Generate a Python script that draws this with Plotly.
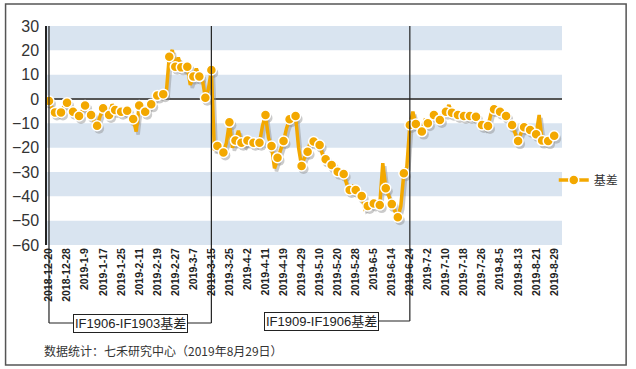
import plotly.graph_objects as go

# ---------------- data ----------------
basis = [
    -0.8, -4, -5.5, -6, -5.5, -3, -1.5, -4, -5.2, -6.5,
    -7, -5, -2.7, -5, -6.6, -9, -11, -7, -3.8, -5,
    -6.6, -2.2, -4.5, -5, -5.2, -5.5, -4.8, -6, -8.2, -13.4,
    -2.7, -4, -5.2, -3.5, -2.2, 0, 1.4, 1.5, 2, 2.5,
    17.4, 20.1, 13.3, 17, 13, 12, 13.3, 5.8, 9.2, 12.5,
    9.2, 8, 0.5, 4, 11.9, -21, -19.3, -20, -22, -18,
    -9.6, -20, -17.1, -13, -18, -19, -17.1, -17.5, -18, -17,
    -18, -11, -6.6, -16, -19.3, -28.5, -24.1, -21, -17.3, -12,
    -8.3, -8, -7, -20, -27.5, -24, -21.7, -17, -17.5, -19,
    -18.9, -23, -24.8, -26, -27.1, -29, -29.9, -30.5, -30.8, -35,
    -37.4, -36, -37.4, -38, -39.9, -45, -44, -43, -42.9, -43,
    -43.6, -26.4, -36.7, -40, -43.2, -46, -48.6, -44, -30.5, -28,
    -10.7, -5.2, -10.3, -12, -13.4, -9, -10, -8, -6.6, -7.5,
    -8.6, -6, -5.2, -2.5, -5.6, -6, -6.6, -7, -7, -7.5,
    -7, -8, -7.3, -9, -10.7, -12, -11.1, -6, -4.2, -5,
    -5.2, -6, -7, -9, -10.7, -14, -17.3, -14, -11.6, -12,
    -12.7, -13.5, -14.5, -6.6, -17.1, -17.5, -17.3, -16, -15.1,
]

tick_labels = [
    "2018-12-20", "2018-12-28", "2019-1-9", "2019-1-17", "2019-1-25",
    "2019-2-11", "2019-2-19", "2019-2-27", "2019-3-7", "2019-3-15",
    "2019-3-25", "2019-4-2", "2019-4-11", "2019-4-19", "2019-4-29",
    "2019-5-10", "2019-5-20", "2019-5-28", "2019-6-5", "2019-6-14",
    "2019-6-24", "2019-7-2", "2019-7-10", "2019-7-18", "2019-7-26",
    "2019-8-5", "2019-8-13", "2019-8-21", "2019-8-29",
]
STEP = 6  # trading days between labelled ticks

y_ticks = [30, 20, 10, 0, -10, -20, -30, -40, -50, -60]

bracket1 = ("IF1906-IF1903基差", "2018-12-20", "2019-3-15")
bracket2 = ("IF1909-IF1906基差", "2019-3-15", "2019-6-24")

series_name = "基差"
note = "数据统计：七禾研究中心（2019年8月29日）"

# ---------------- figure ----------------
ORANGE = "#F3A800"
BAND = "#D9E4F0"
x = list(range(len(basis)))
tick_pos = [i * STEP for i in range(len(tick_labels))]
pos = {lab: i * STEP for i, lab in enumerate(tick_labels)}

XR = [-0.66, 170.6]
YR = [-60, 30]
PXX = 522 / (XR[1] - XR[0])
PXY = 219 / (YR[1] - YR[0])
dx = 2 / PXX
dy = 3 / PXY

fig = go.Figure()

# shadow (base axes, shifted ranges)
fig.add_trace(go.Scatter(x=x, y=basis, mode="lines", xaxis="x", yaxis="y",
                         line=dict(color="rgba(140,140,140,0.45)", width=3.5),
                         showlegend=False, hoverinfo="skip"))
fig.add_trace(go.Scatter(x=x[::2], y=basis[::2], mode="markers", xaxis="x", yaxis="y",
                         marker=dict(color="rgba(140,140,140,0.45)", size=10),
                         showlegend=False, hoverinfo="skip"))
# main series (overlay axes)
fig.add_trace(go.Scatter(x=x, y=basis, mode="lines", xaxis="x2", yaxis="y2",
                         line=dict(color=ORANGE, width=3.5), showlegend=False))
fig.add_trace(go.Scatter(x=x[::2], y=basis[::2], mode="markers", xaxis="x2", yaxis="y2",
                         marker=dict(color=ORANGE, size=10, line=dict(color="white", width=1.5)),
                         showlegend=False))
# legend entry
fig.add_trace(go.Scatter(x=[None], y=[None], mode="lines+markers", xaxis="x2", yaxis="y2",
                         name=series_name,
                         line=dict(color=ORANGE, width=3.5),
                         marker=dict(color=ORANGE, size=10, line=dict(color="white", width=1.5))))

shapes = []
# bands
for k in range(len(y_ticks) - 1):
    top, bot = y_ticks[k], y_ticks[k + 1]
    if k % 2 == 0:
        shapes.append(dict(type="rect", xref="paper", yref="y2", x0=0, x1=1, y0=bot, y1=top,
                           fillcolor=BAND, line=dict(width=0), layer="below"))
# zero line
shapes.append(dict(type="line", xref="paper", yref="y2", x0=0, x1=1, y0=0, y1=0,
                   line=dict(color="#555555", width=2), layer="below"))

BR_Y = -(323 - 245) / 219
# bracket 1
l1, a1, b1 = bracket1
for d in (a1, b1):
    shapes.append(dict(type="line", xref="x2", yref="paper", x0=pos[d], x1=pos[d], y0=BR_Y, y1=1,
                       line=dict(color="#222222", width=1.2)))
shapes.append(dict(type="line", xref="x2", yref="paper", x0=pos[a1], x1=pos[b1], y0=BR_Y, y1=BR_Y,
                   line=dict(color="#222222", width=1.2)))
# bracket 2
l2, a2, b2 = bracket2
BR2_Y = -(321 - 245) / 219
shapes.append(dict(type="line", xref="x2", yref="paper", x0=pos[b2], x1=pos[b2], y0=BR2_Y, y1=1,
                   line=dict(color="#222222", width=1.2)))
mid2 = (pos[a2] + pos[b2]) / 2 + 3.5
shapes.append(dict(type="line", xref="x2", yref="paper", x0=mid2, x1=pos[b2], y0=BR2_Y, y1=BR2_Y,
                   line=dict(color="#222222", width=1.2)))
# outer frame
shapes.append(dict(type="rect", xref="paper", yref="paper",
                   x0=(3 - 45) / 522, x1=(632 - 45) / 522,
                   y0=(245 - 365) / 219, y1=(245 - 4) / 219,
                   line=dict(color="#555555", width=1.5), fillcolor="rgba(0,0,0,0)"))

box_font = dict(family="Liberation Sans, Noto Sans CJK SC", size=13, color="#222222")
annotations = [
    dict(x=(pos[a1] + pos[b1]) / 2, y=BR_Y, xref="x2", yref="paper", text=l1, showarrow=False,
         xanchor="center", yanchor="middle",
         bgcolor="white", bordercolor="#222222", borderwidth=1, borderpad=1, font=box_font),
    dict(x=mid2, y=BR2_Y, xref="x2", yref="paper", text=l2, showarrow=False,
         xanchor="center", yanchor="middle",
         bgcolor="white", bordercolor="#222222", borderwidth=1, borderpad=1, font=box_font),
    dict(x=(40 - 45) / 522, y=(245 - 351) / 219, xref="paper", yref="paper", text=note,
         showarrow=False, xanchor="left", yanchor="middle",
         font=dict(family="Noto Sans CJK SC", size=12, color="#333333")),
]

fig.update_layout(
    width=636, height=369,
    margin=dict(l=45, r=69, t=26, b=124),
    paper_bgcolor="white", plot_bgcolor="white",
    shapes=shapes, annotations=annotations,
    xaxis=dict(range=[XR[0] - dx, XR[1] - dx], visible=False, fixedrange=True),
    yaxis=dict(range=[YR[0] + dy, YR[1] + dy], visible=False, fixedrange=True),
    xaxis2=dict(range=XR, overlaying="x", side="bottom", tickmode="array",
                tickvals=tick_pos, ticktext=[f"<b>{t}</b>" for t in tick_labels],
                tickangle=-90, tickfont=dict(family="Liberation Sans", size=10.5, color="#222222"),
                showgrid=False, zeroline=False, showline=False, ticks=""),
    yaxis2=dict(range=YR, overlaying="y", side="left", tickmode="array", tickvals=y_ticks,
                tickfont=dict(family="Liberation Sans", size=16, color="#333333"),
                showgrid=False, zeroline=False, showline=True, linecolor="#222222", linewidth=1.5,
                ticks="", ticklabelstandoff=3),
    legend=dict(x=0.984, xanchor="left", y=0.297, yanchor="middle",
                font=dict(family="Noto Sans CJK SC", size=12, color="#333333"),
                bgcolor="rgba(0,0,0,0)"),
    showlegend=True,
)

fig.write_html("out.html", config={"displayModeBar": False},
               post_script="document.body.style.margin='0';document.body.style.padding='0';")
